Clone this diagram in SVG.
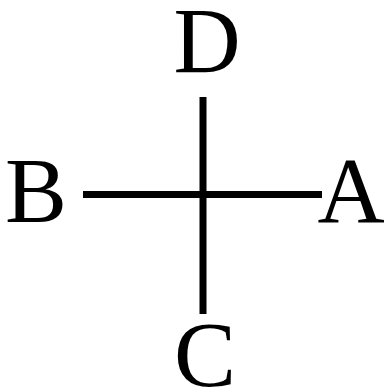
<svg xmlns="http://www.w3.org/2000/svg" width="385" height="392" viewBox="0 0 385 392">
<style>
.lbl{font-family:"Liberation Serif","Times New Roman",serif;font-size:93px;fill:#000;text-anchor:middle}
.ln{stroke:#000;stroke-width:7;fill:none}
</style>
<rect width="385" height="392" fill="#fff"/>
<g id="connectors">
<line class="ln" x1="203" y1="97" x2="203" y2="314"/>
<line class="ln" x1="83" y1="194.5" x2="322" y2="194.5"/>
</g>
<g id="D"><text class="lbl" x="207" y="72">D</text></g>
<g id="B"><text class="lbl" x="36" y="222">B</text></g>
<g id="A"><text class="lbl" x="351" y="222">A</text></g>
<g id="C"><text class="lbl" x="205" y="386">C</text></g>
</svg>
